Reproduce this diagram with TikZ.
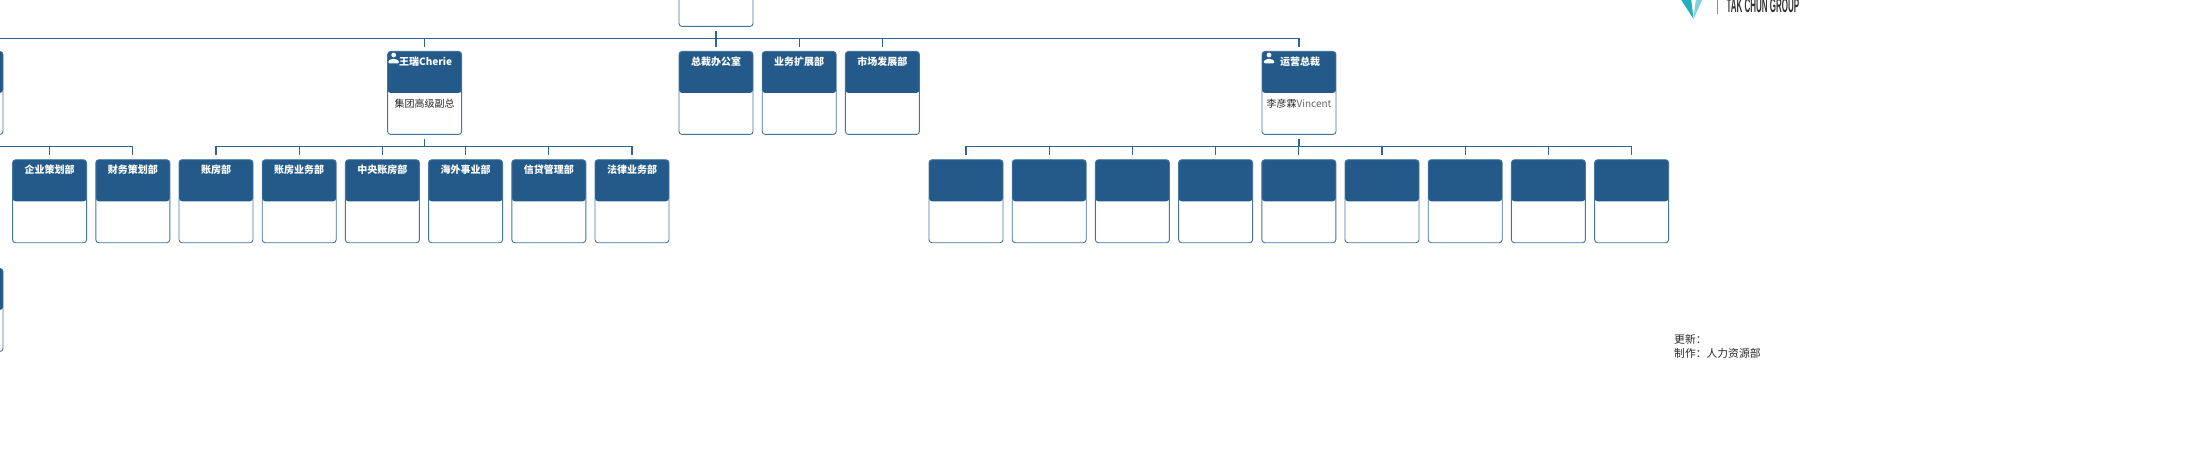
\documentclass[tikz,border=0pt]{standalone}
\usepackage{fontspec}
\setmainfont{Noto Sans CJK SC}
\newfontfamily\logofont{Liberation Sans}
\usetikzlibrary{positioning, calc}
\definecolor{cHead}{HTML}{235A8A}
\definecolor{cLink}{HTML}{2F6394}
\definecolor{cLogoA}{HTML}{1FB0BC}
\definecolor{cLogoB}{HTML}{7FD3D9}
\newcommand{\personicon}[2]{%
  \fill[white] ($(#1.north west)+(#2,4)$) circle (2.4);
  \fill[white, rounded corners=1.5] ($(#1.north west)+(#2-5.5,12.5)$) -- ++(0,-2.5) -- ++(3,-2) -- ++(5,0) -- ++(3,2) -- ++(0,2.5) -- cycle;
}

\begin{document}
\begin{tikzpicture}[
  x=1pt, y=-1pt,
  node distance = 8.3pt,
  card/.style = {rectangle, rounded corners=3pt, draw=cHead!85, line width=0.9pt,
                 minimum width=74pt, inner xsep=0pt, inner ysep=0pt, anchor=north,
                 text height=14pt, text depth=69pt, text=white,
                 font=\fontsize{10}{12}\selectfont\bfseries,
                 path picture={\fill[cHead] (path picture bounding box.north west)
                   rectangle ([yshift=-41.5pt]path picture bounding box.north east);}},
  sub/.style  = {font=\fontsize{10}{12}\selectfont, text=black!85, inner sep=0pt},
  note/.style = {font=\fontsize{10.8}{13}\selectfont, text=black!85, inner sep=0pt, anchor=base west},
  link/.style = {draw=cLink, line width=1.3pt}]

\useasboundingbox (0,0) rectangle (2199,449);
\clip (0,0) rectangle (2199,449);

% ---- buses -----------------------------------------------------------------
\coordinate (busTop) at (0,38.7);
\coordinate (busLeft) at (0,146.3);

% ---- top row ---------------------------------------------------------------
\node[card] (root) at (716,-57) {};
\node[card] (office) at (716,51) {总裁办公室};
\node[card, right=of office] (expand) {业务扩展部};
\node[card, right=of expand] (market) {市场发展部};
\node[card] (wang) at (424.6,51) {\hspace{2pt}王瑞Cherie};
\node[card] (coo) at (1299,51) {\hspace{2pt}运营总裁};
\node[card] (offleft) at (-34,51) {};
\node[card] (offlow) at (-34,268) {};

\node[sub] (wangrole) at (424.6,103.5) {集团高级副总};
\node[sub] (cooname) at (1299,103.5) {李彦霖\textcolor{black!60}{Vincent}};
\personicon{wang}{6.5}
\personicon{coo}{7.5}

% ---- row under wang --------------------------------------------------------
\node[card] (plan) at (49.6,159.3) {企业策划部};
\node[card, right=of plan] (finance) {财务策划部};
\node[card, right=of finance] (acct) {账房部};
\node[card, right=of acct] (acctbiz) {账房业务部};
\node[card, right=of acctbiz] (central) {中央账房部};
\node[card, right=of central] (oversea) {海外事业部};
\node[card, right=of oversea] (credit) {信贷管理部};
\node[card, right=of credit] (legal) {法律业务部};

% ---- row under coo (no names printed) --------------------------------------
\node[card] (opsa) at (966,159.3) {};
\node[card, right=of opsa] (opsb) {};
\node[card, right=of opsb] (opsc) {};
\node[card, right=of opsc] (opsd) {};
\node[card, right=of opsd] (opse) {};
\node[card, right=of opse] (opsf) {};
\node[card, right=of opsf] (opsg) {};
\node[card, right=of opsg] (opsh) {};
\node[card, right=of opsh] (opsi) {};

% top bus
\draw[link, shorten >=4pt] (busTop) -- (busTop -| coo.north) -- (coo.north);
\draw[link, shorten <=4pt] (root.south) -- (office.north |- busTop);
\draw[link, shorten >=4pt] (office.north |- busTop) -- (office.north);
\draw[link, shorten >=4pt] (wang.north |- busTop) -- (wang.north);
\draw[link, shorten >=4pt] (expand.north |- busTop) -- (expand.north);
\draw[link, shorten >=4pt] (market.north |- busTop) -- (market.north);

% bus under wang
\draw[link, shorten <=4pt, shorten >=4pt] (acct.north) -- (acct.north |- busLeft) -- (legal.north |- busLeft) -- (legal.north);
\draw[link, shorten <=4pt] (wang.south) -- (wang.south |- busLeft);
\draw[link, shorten >=4pt] (acctbiz.north |- busLeft) -- (acctbiz.north);
\draw[link, shorten >=4pt] (central.north |- busLeft) -- (central.north);
\draw[link, shorten >=4pt] (oversea.north |- busLeft) -- (oversea.north);
\draw[link, shorten >=4pt] (credit.north |- busLeft) -- (credit.north);

% bus coming in from the left edge
\draw[link, shorten >=4pt] (busLeft) -- (busLeft -| finance.north) -- (finance.north);
\draw[link, shorten >=4pt] (plan.north |- busLeft) -- (plan.north);

% bus under coo
\draw[link, shorten <=4pt, shorten >=4pt] (opsa.north) -- (opsa.north |- busLeft) -- (opsi.north |- busLeft) -- (opsi.north);
\draw[link, shorten <=4pt] (coo.south) -- (coo.south |- busLeft);
\draw[link, shorten >=4pt] (opsb.north |- busLeft) -- (opsb.north);
\draw[link, shorten >=4pt] (opsc.north |- busLeft) -- (opsc.north);
\draw[link, shorten >=4pt] (opsd.north |- busLeft) -- (opsd.north);
\draw[link, shorten >=4pt] (opse.north |- busLeft) -- (opse.north);
\draw[link, shorten >=4pt] (opsf.north |- busLeft) -- (opsf.north);
\draw[link, shorten >=4pt] (opsg.north |- busLeft) -- (opsg.north);
\draw[link, shorten >=4pt] (opsh.north |- busLeft) -- (opsh.north);

% ---- logo, cut by the top edge ---------------------------------------------
\fill[cLogoA] (1680,-2) -- (1693.5,19) -- (1691,-2) -- cycle;
\fill[cLogoB] (1703,-2) -- (1693.5,19) -- (1696,-2) -- cycle;
\draw[black!45, line width=0.7pt] (1717,-2) -- (1717,14.5);
\node[anchor=base west, inner sep=0pt, xscale=0.40, font=\logofont\fontsize{20}{20}\selectfont\bfseries, text=black!80] (logotext) at (1726.5,13) {TAK CHUN GROUP};

% ---- footer ----------------------------------------------------------------
\node[note] (updated) at (1674,343) {更新：};
\node[note] (maker) at (1674,357) {制作：人力资源部};

\end{tikzpicture}
\end{document}
